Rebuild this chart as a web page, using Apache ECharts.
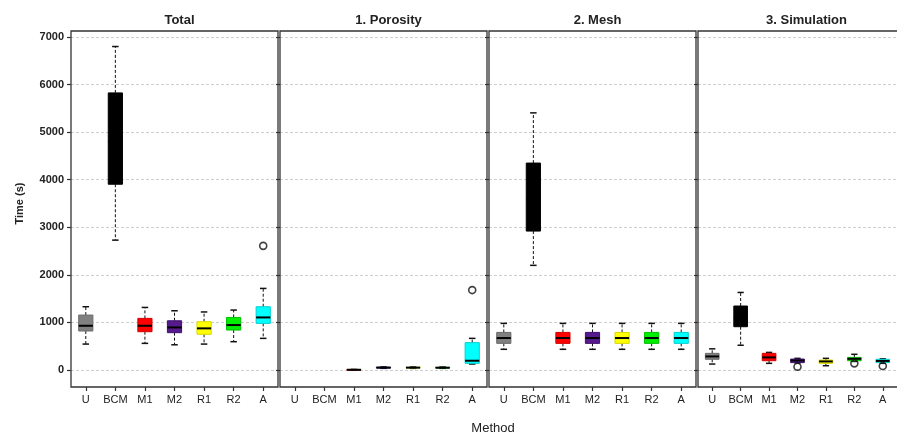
<!DOCTYPE html>
<html>
<head>
<meta charset="utf-8">
<script src="https://cdn.jsdelivr.net/npm/echarts@6/dist/echarts.min.js"></script>
<style>html,body{margin:0;padding:0;background:#fff;}#chart{width:897px;height:437px;}</style>
</head>
<body>
<div id="chart"></div>
<script>
const categories = ['U', 'BCM', 'M1', 'M2', 'R1', 'R2', 'A'];
const panelTitles = ['Total', '1. Porosity', '2. Mesh', '3. Simulation'];
const yTicks = [0, 1000, 2000, 3000, 4000, 5000, 6000, 7000];

// [min, Q1, median, Q3, max] per category (null = no box)
const totalStats = [
  [545, 820, 930, 1155, 1330],
  [2730, 3905, 4800, 5825, 6800],
  [560, 805, 930, 1085, 1315],
  [530, 785, 895, 1035, 1245],
  [545, 750, 875, 1015, 1220],
  [595, 840, 945, 1105, 1260],
  [665, 980, 1105, 1330, 1715]
];
const totalOutliers = [['A', 2610]];

const porosityStats = [
  null,
  null,
  [0, 3, 5, 8, 12],
  [35, 42, 50, 58, 65],
  [35, 42, 50, 58, 65],
  [35, 42, 48, 56, 63],
  [126, 140, 195, 575, 665]
];
const porosityOutliers = [['A', 1680]];

const meshStats = [
  [435, 560, 672, 790, 980],
  [2200, 2920, 3600, 4350, 5405],
  [435, 560, 672, 790, 980],
  [435, 560, 672, 790, 980],
  [435, 560, 672, 790, 980],
  [435, 560, 672, 790, 980],
  [435, 560, 672, 790, 980]
];
const meshOutliers = [];

const simulationStats = [
  [125, 225, 285, 350, 445],
  [520, 910, 1100, 1345, 1630],
  [140, 195, 265, 350, 370],
  [150, 155, 200, 230, 245],
  [90, 140, 180, 210, 245],
  [180, 195, 235, 265, 330],
  [140, 155, 190, 225, 235]
];
const simulationOutliers = [['M2', 70], ['R2', 140], ['A', 85]];

// styles
const boxFill = ['#808080', '#000000', '#ff0000', '#551a8b', '#ffff00', '#00ee00', '#00ffff'];
const boxEdge = ['#6a6a6a', '#000000', '#d40000', '#3f1070', '#d8d800', '#00c000', '#00d0d0'];

const panelStats = [totalStats, porosityStats, meshStats, simulationStats];
const panelOutliers = [totalOutliers, porosityOutliers, meshOutliers, simulationOutliers];
const gridLeft = [71, 280, 489, 698];
const gridWidth = 207;
const gridTop = 37, gridBottom = 67; // y=7000 .. y=0
const frameTop = 31, frameBottom = 387;

function renderBox(params, api) {
  const c = api.value(0);
  const pMin = api.coord([c, api.value(1)]);
  const x = pMin[0];
  const yMin = pMin[1];
  const yQ1 = api.coord([c, api.value(2)])[1];
  const yMed = api.coord([c, api.value(3)])[1];
  const yQ3 = api.coord([c, api.value(4)])[1];
  const yMax = api.coord([c, api.value(5)])[1];
  const band = api.size([1, 0])[0];
  const bw = band * 0.48;
  const cw = band * 0.22;
  const dash = { stroke: '#111', lineWidth: 1, lineDash: [3, 2] };
  const cap = { stroke: '#111', lineWidth: 1.5 };
  return {
    type: 'group',
    children: [
      { type: 'line', shape: { x1: x, y1: yQ3, x2: x, y2: yMax }, style: dash },
      { type: 'line', shape: { x1: x, y1: yQ1, x2: x, y2: yMin }, style: dash },
      { type: 'line', shape: { x1: x - cw / 2, y1: yMax, x2: x + cw / 2, y2: yMax }, style: cap },
      { type: 'line', shape: { x1: x - cw / 2, y1: yMin, x2: x + cw / 2, y2: yMin }, style: cap },
      { type: 'rect', shape: { x: x - bw / 2, y: yQ3, width: bw, height: Math.max(yQ1 - yQ3, 0.5) },
        style: { fill: boxFill[c], stroke: boxEdge[c], lineWidth: 1 } },
      { type: 'line', shape: { x1: x - bw / 2, y1: yMed, x2: x + bw / 2, y2: yMed },
        style: { stroke: '#000', lineWidth: 2 } }
    ]
  };
}

const grids = [], xAxes = [], yAxes = [], series = [], titles = [], graphics = [];
for (let i = 0; i < 4; i++) {
  grids.push({ left: gridLeft[i], width: gridWidth, top: gridTop, bottom: gridBottom, containLabel: false });
  xAxes.push({
    type: 'category', gridIndex: i, data: categories, boundaryGap: true, position: 'bottom',
    offset: frameBottom - (437 - gridBottom),
    axisLine: { show: false, onZero: false },
    axisTick: { show: true, alignWithLabel: true, length: 4, lineStyle: { color: '#333', width: 1.2 } },
    axisLabel: { fontFamily: 'Liberation Sans', fontSize: 11, color: '#222', margin: 7, interval: 0 },
    splitLine: { show: false }
  });
  yAxes.push({
    type: 'value', gridIndex: i, min: yTicks[0], max: yTicks[yTicks.length - 1], interval: 1000,
    axisLine: { show: false },
    axisTick: { show: true, length: 4, lineStyle: { color: '#333', width: 1.2 } },
    axisLabel: { show: i === 0, fontFamily: 'Liberation Sans', fontWeight: 'bold', fontSize: 11, color: '#222', margin: 7,
      formatter: v => String(v) },
    splitLine: { show: true, lineStyle: { color: '#cfcfcf', type: [3, 2], width: 1 } },
    name: i === 0 ? 'Time (s)' : '',
    nameLocation: 'middle', nameGap: 46,
    nameTextStyle: { fontFamily: 'Liberation Sans', fontWeight: 'bold', fontSize: 11, color: '#222' }
  });
  const stats = panelStats[i];
  const boxData = [];
  stats.forEach((s, k) => { if (s) boxData.push([k].concat(s)); });
  series.push({
    type: 'custom', xAxisIndex: i, yAxisIndex: i, renderItem: renderBox,
    encode: { x: 0, y: [1, 2, 3, 4, 5] }, data: boxData, clip: false, z: 3
  });
  series.push({
    type: 'scatter', xAxisIndex: i, yAxisIndex: i, symbol: 'circle', symbolSize: 7,
    itemStyle: { color: 'rgba(255,255,255,0)', borderColor: '#111', borderWidth: 1.6 },
    data: panelOutliers[i].map(o => [categories.indexOf(o[0]), o[1]]), z: 4
  });
  titles.push({
    text: panelTitles[i], left: gridLeft[i] + gridWidth / 2, top: 9, textAlign: 'center',
    textStyle: { fontFamily: 'Liberation Sans', fontWeight: 'bold', fontSize: 13, color: '#222' }
  });
  graphics.push({
    type: 'rect', shape: { x: gridLeft[i], y: frameTop, width: gridWidth, height: frameBottom - frameTop },
    style: { fill: 'none', stroke: '#333', lineWidth: 1.3 }, z: 10, silent: true
  });
}
titles.push({
  text: 'Method', left: (gridLeft[0] + gridLeft[3] + gridWidth) / 2, top: 417, textAlign: 'center',
  textStyle: { fontFamily: 'Liberation Sans', fontWeight: 'normal', fontSize: 13, color: '#222' }
});

const chart = echarts.init(document.getElementById('chart'), null, { renderer: 'canvas' });
chart.setOption({
  animation: false,
  backgroundColor: '#fff',
  title: titles,
  grid: grids,
  xAxis: xAxes,
  yAxis: yAxes,
  series: series,
  graphic: graphics
});
</script>
</body>
</html>
